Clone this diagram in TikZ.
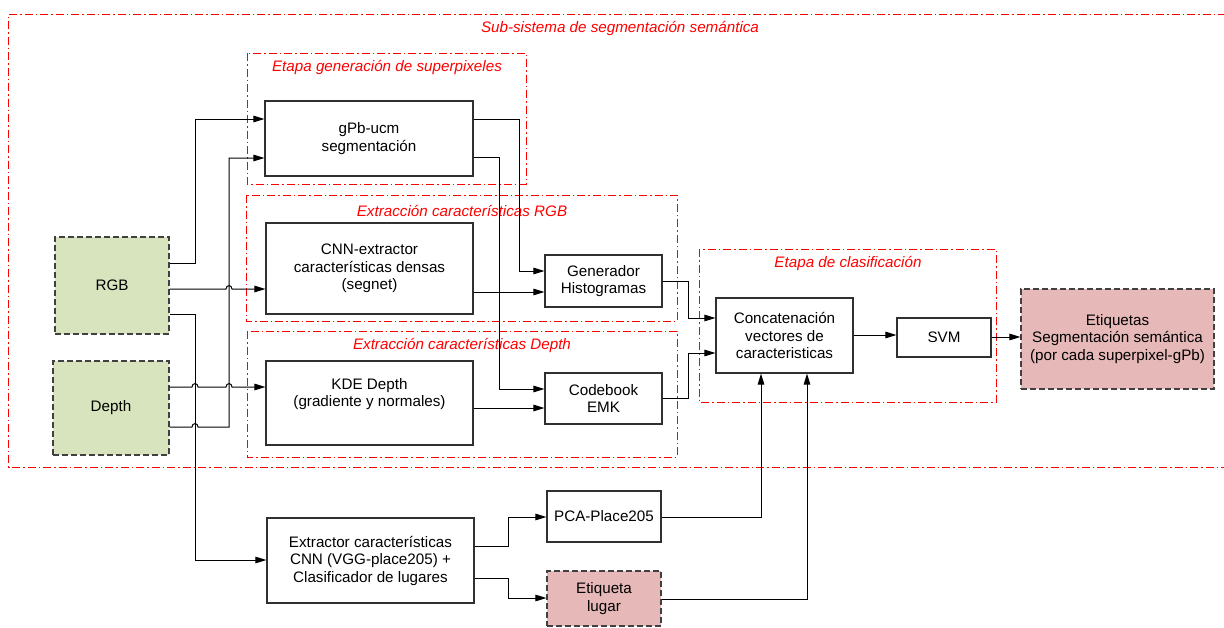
\documentclass[tikz,border=0pt]{standalone}
\usepackage{fontspec}
\setmainfont{Liberation Sans}
\usetikzlibrary{arrows.meta}
\definecolor{srcgreen}{HTML}{D7E4BD}
\definecolor{outpink}{HTML}{E6B9B8}
\definecolor{edge}{HTML}{303030}
\begin{document}
\begin{tikzpicture}[x=1pt,y=-1pt,
  font=\fontsize{15.2}{17.5}\selectfont,
  box/.style={draw=edge, line width=1.1pt, align=center, inner sep=0pt},
  srcbox/.style={box, dash pattern=on 6pt off 3pt, draw=black!75},
  stagebox/.style={draw=red, line width=0.8pt, dash pattern=on 8pt off 3pt on 1.5pt off 3pt},
  stagelbl/.style={text=red, font=\fontsize{15.2}{17.5}\selectfont\itshape},
  arr/.style={-{Triangle[length=11pt,width=6.5pt]}, line width=1pt},
  ln/.style={line width=1pt}
]
\useasboundingbox (0,0) rectangle (1224,627);

% stage frames
\draw[stagebox] (1226,14) -- (8.5,14) -- (8.5,467) -- (1226,467);
\draw[stagebox] (247,53) rectangle (526,184);
\draw[stagebox] (246,195) rectangle (677,321);
\draw[stagebox] (247,331) rectangle (677,457);
\draw[stagebox] (699,249) rectangle (996,402);

\node[stagelbl] (lsub) at (620,28) {Sub-sistema de segmentación semántica};
\node[stagelbl] (lsup) at (387,67) {Etapa generación de superpixeles};
\node[stagelbl] (lrgb) at (462,211) {Extracción características RGB};
\node[stagelbl] (ldep) at (462,345) {Extracción características Depth};
\node[stagelbl] (lcla) at (848,263) {Etapa de clasificación};

% blocks
\node[srcbox, fill=srcgreen, minimum width=114, minimum height=97] (rgb) at (112,285.5) {RGB};
\node[srcbox, fill=srcgreen, minimum width=116, minimum height=94] (depth) at (111,408) {Depth};
\node[box, minimum width=208, minimum height=75] (gpb) at (369,138.5) {gPb-ucm\\segmentación};
\node[box, minimum width=207, minimum height=91] (cnn) at (369.5,268.5) {CNN-extractor\\características densas\\(segnet)};
\node[box, minimum width=207, minimum height=84] (kde) at (369.5,403) {};
\node[align=center, inner sep=0pt] (kdet) at ([yshift=9pt]kde.center) {KDE Depth\\(gradiente y normales)};
\node[box, minimum width=117, minimum height=52] (gen) at (603.5,281) {Generador\\Histogramas};
\node[box, minimum width=117, minimum height=51] (code) at (603.5,398.5) {Codebook\\EMK};
\node[box, minimum width=137, minimum height=75] (concat) at (784.5,335.5) {Concatenación\\vectores de\\caracteristicas};
\node[box, minimum width=94, minimum height=39] (svm) at (944,337.5) {SVM};
\node[srcbox, fill=outpink, minimum width=193, minimum height=100] (etq) at (1117.5,339) {Etiquetas\\Segmentación semántica\\(por cada superpixel-gPb)};
\node[box, minimum width=207, minimum height=85] (ext) at (370.5,560.5) {Extractor características\\CNN (VGG-place205) +\\Clasificador de lugares};
\node[box, minimum width=114, minimum height=51] (pca) at (604,516.5) {PCA-Place205};
\node[srcbox, fill=outpink, minimum width=114, minimum height=55] (lugar) at (604,598.5) {Etiqueta\\lugar};

% connectors from RGB
\draw[arr] (rgb.east |- 0,263) -- (195,263) -- (195,119) -- (gpb.west |- 0,119);
\draw[arr] (rgb.east |- 0,289) -- (226,289) .. controls (226,284.5) and (232,284.5) .. (232,289) -- (cnn.west |- 0,289);
\draw[arr] (rgb.east |- 0,314) -- (195,314) -- (195,560) -- (ext.west |- 0,560);
% connectors from Depth
\draw[arr] (depth.east |- 0,387) -- (192,387) .. controls (192,382.5) and (198,382.5) .. (198,387)
  -- (226,387) .. controls (226,382.5) and (232,382.5) .. (232,387) -- (kde.west |- 0,387);
\draw[arr] (depth.east |- 0,427) -- (192,427) .. controls (192,422.5) and (198,422.5) .. (198,427)
  -- (229,427) -- (229,158) -- (gpb.west |- 0,158);
% gPb outputs
\draw[arr] (gpb.east |- 0,119) -- (519,119) -- (519,271) -- (gen.west |- 0,271);
\draw[arr] (gpb.east |- 0,157) -- (499,157) -- (499,389) -- (code.west |- 0,389);
% features
\draw[arr] (cnn.east |- 0,292) -- (gen.west |- 0,292);
\draw[arr] (kde.east |- 0,408) -- (code.west |- 0,408);
% to concatenation
\draw[arr] (gen.east |- 0,281) -- (688,281) -- (688,318) -- (concat.west |- 0,318);
\draw[arr] (code.east |- 0,398) -- (688,398) -- (688,353) -- (concat.west |- 0,353);
\draw[arr] (concat.east |- 0,335) -- (svm.west |- 0,335);
\draw[arr] (svm.east |- 0,337) -- (etq.west |- 0,337);
% place branch
\draw[arr] (ext.east |- 0,546) -- (508,546) -- (508,517) -- (pca.west |- 0,517);
\draw[arr] (ext.east |- 0,578) -- (508,578) -- (508,598) -- (lugar.west |- 0,598);
\draw[arr] (pca.east |- 0,517) -- (761,517) -- (761,517 |- concat.south);
\draw[arr] (lugar.east |- 0,599) -- (807,599) -- (807,599 |- concat.south);
\end{tikzpicture}
\end{document}
